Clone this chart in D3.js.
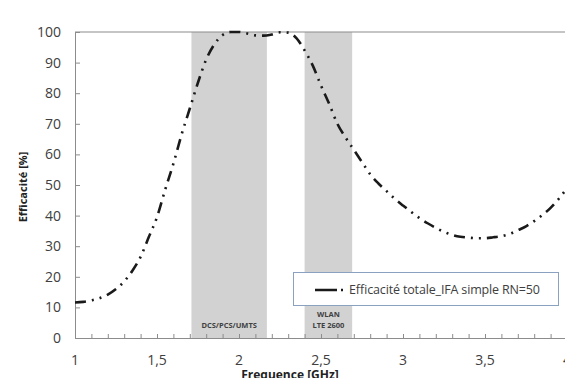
<!DOCTYPE html>
<html>
<head>
<meta charset="utf-8">
<script src="https://cdn.jsdelivr.net/npm/d3@7"></script>
<style>
  body { margin: 0; background: #fff; }
  svg { display: block; }
  text { font-family: "Open Sans", sans-serif; }
</style>
</head>
<body>
<svg id="chart"></svg>
<script>
// données
const freqs = [1.00, 1.05, 1.10, 1.15, 1.20, 1.25, 1.30, 1.35, 1.40, 1.45,
               1.50, 1.55, 1.60, 1.65, 1.70, 1.75, 1.80, 1.85, 1.90, 1.95,
               2.00, 2.05, 2.10, 2.15, 2.20, 2.25, 2.30, 2.35, 2.40, 2.45,
               2.50, 2.55, 2.60, 2.65, 2.70, 2.75, 2.80, 2.85, 2.90, 2.95,
               3.00, 3.05, 3.10, 3.15, 3.20, 3.25, 3.30, 3.35, 3.40, 3.45,
               3.50, 3.55, 3.60, 3.65, 3.70, 3.75, 3.80, 3.85, 3.90, 3.95, 4.00];
const efficacite = [11.6, 11.8, 12.3, 13.0, 14.2, 16.0, 18.5, 22.0, 26.5, 33.0,
                    39.5, 48.5, 57.0, 66.5, 75.0, 83.5, 91.0, 96.0, 99.0, 100.0,
                    100.0, 99.5, 98.9, 98.8, 99.2, 99.9, 99.8, 98.0, 94.0, 89.0,
                    82.5, 76.5, 70.0, 65.5, 61.5, 57.5, 53.5, 50.5, 48.0, 45.5,
                    43.3, 41.2, 39.2, 37.5, 36.0, 34.7, 33.7, 33.1, 32.8, 32.6,
                    32.6, 32.9, 33.3, 34.0, 35.2, 36.5, 38.2, 40.2, 42.5, 45.5, 49.0];
const bandNames = [["DCS/PCS/UMTS"], ["WLAN", "LTE 2600"]];
const bandStart = [1.71, 2.40];
const bandEnd = [2.17, 2.69];
const xTicks = [1, 1.5, 2, 2.5, 3, 3.5, 4];
const yTicks = [0, 10, 20, 30, 40, 50, 60, 70, 80, 90, 100];
const seriesName = "Efficacité totale_IFA simple RN=50";

const width = 565;
const height = 378;
const margin = {left: 75, right: -2, top: 32, bottom: 40};

const svg = d3.select("#chart")
  .attr("width", width)
  .attr("height", height);

const x = d3.scaleLinear().domain([1, 4]).range([margin.left, width - margin.right]);
const y = d3.scaleLinear().domain([0, 100]).range([height - margin.bottom, margin.top]);

// bandes de fréquences
const bands = bandStart.map((s, i) => ({s, e: bandEnd[i], names: bandNames[i]}));
svg.selectAll(".band")
  .data(bands)
  .enter()
  .append("rect")
  .attr("x", d => x(d.s))
  .attr("y", y(100))
  .attr("width", d => x(d.e) - x(d.s))
  .attr("height", y(0) - y(100))
  .style("fill", "#d2d2d2");

// ligne à 100
svg.append("line")
  .attr("x1", x(1)).attr("x2", width)
  .attr("y1", y(100)).attr("y2", y(100))
  .style("stroke", "#8c8c8c").style("stroke-width", 1.2);

// axe X
const axisX = d3.axisBottom(x)
  .tickValues(d3.range(10, 41).map(d => d / 10))
  .tickSize(-4)
  .tickFormat("");
svg.append("g")
  .attr("transform", `translate(0, ${y(0)})`)
  .call(axisX)
  .call(g => g.select(".domain").style("stroke", "#8c8c8c"))
  .call(g => g.selectAll(".tick line").style("stroke", "#8c8c8c"));

svg.selectAll(".xlab")
  .data(xTicks)
  .enter()
  .append("text")
  .attr("x", d => x(d))
  .attr("y", 365)
  .attr("text-anchor", "middle")
  .style("font-size", "14px")
  .style("fill", "#404040")
  .text(d => String(d).replace(".", ","));

// axe Y
const axisY = d3.axisLeft(y)
  .tickValues(yTicks)
  .tickSize(-5)
  .tickFormat("");
svg.append("g")
  .attr("transform", `translate(${x(1)}, 0)`)
  .call(axisY)
  .call(g => g.select(".domain").style("stroke", "#8c8c8c"))
  .call(g => g.selectAll(".tick line").style("stroke", "#8c8c8c"));

svg.selectAll(".ylab")
  .data(yTicks)
  .enter()
  .append("text")
  .attr("x", 61)
  .attr("y", d => y(d) + 5)
  .attr("text-anchor", "end")
  .style("font-size", "14px")
  .style("fill", "#404040")
  .text(d => d);

// titres des axes
svg.append("text")
  .attr("transform", `translate(27, 187) rotate(-90)`)
  .attr("text-anchor", "middle")
  .style("font-size", "11px")
  .style("font-weight", "bold")
  .style("fill", "#222")
  .text("Efficacité [%]");

svg.append("text")
  .attr("x", 290)
  .attr("y", 379)
  .attr("text-anchor", "middle")
  .style("font-size", "12px")
  .style("font-weight", "bold")
  .style("fill", "#222")
  .text("Frequence [GHz]");

// noms des bandes
bands.forEach(b => {
  const n = b.names.length;
  b.names.forEach((t, j) => {
    svg.append("text")
      .attr("x", (x(b.s) + x(b.e)) / 2)
      .attr("y", 328 - (n - 1 - j) * 11.5)
      .attr("text-anchor", "middle")
      .style("font-size", "7.5px")
      .style("font-weight", "bold")
      .style("fill", "#404040")
      .text(t);
  });
});

// courbe
const data = freqs.map((f, i) => ({f, v: efficacite[i]}));
const line = d3.line()
  .x(d => x(d.f))
  .y(d => y(d.v))
  .curve(d3.curveMonotoneX);

svg.append("path")
  .datum(data)
  .attr("d", line)
  .style("fill", "none")
  .style("stroke", "#1a1a1a")
  .style("stroke-width", 2.6)
  .style("stroke-dasharray", "11 6 2 6 2 6");

// légende
svg.append("rect")
  .attr("x", 293.5).attr("y", 272.5)
  .attr("width", 265).attr("height", 33)
  .style("fill", "#fff")
  .style("stroke", "#8aa2c0")
  .style("stroke-width", 1);

svg.append("line")
  .attr("x1", 315).attr("x2", 344)
  .attr("y1", 290).attr("y2", 290)
  .style("stroke", "#1a1a1a")
  .style("stroke-width", 2.6)
  .style("stroke-dasharray", "22 4 2 20");

svg.append("text")
  .attr("x", 349)
  .attr("y", 294)
  .attr("textLength", 191)
  .style("font-size", "12.5px")
  .style("fill", "#404040")
  .text(seriesName);
</script>
</body>
</html>
